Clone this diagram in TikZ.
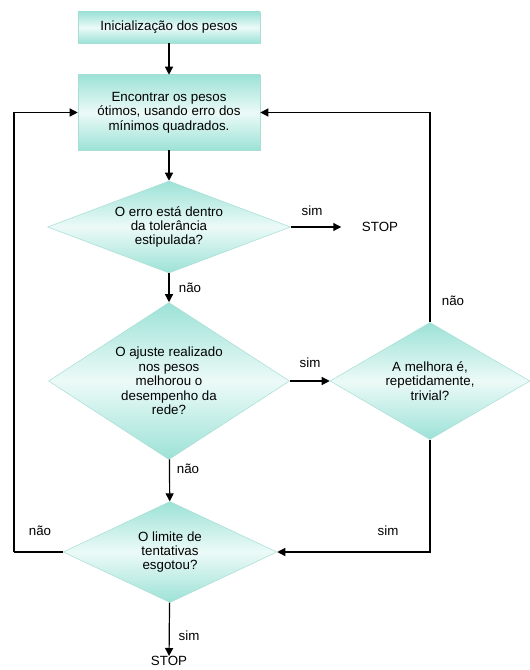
\documentclass[tikz,border=0pt]{standalone}
\usepackage{fontspec}
\setmainfont{Liberation Sans}
\usetikzlibrary{shapes.geometric,arrows.meta}
\definecolor{tealfill}{RGB}{156,226,215}
\definecolor{tealmid}{RGB}{236,250,247}
\definecolor{tealline}{RGB}{170,222,213}
\begin{document}
\begin{tikzpicture}[x=0.75pt,y=-0.75pt,
    every node/.style={font=\fontsize{10}{10.8}\selectfont},
    box/.style={rectangle,draw=tealline,top color=tealfill,bottom color=tealfill,middle color=tealmid,align=center,inner sep=0pt},
    decision/.style={diamond,draw=tealline,top color=tealfill,bottom color=tealfill,middle color=tealmid,align=center,inner sep=0pt},
    flow/.style={line width=0.9pt,-{Triangle[length=6pt,width=6pt]}},
    plain/.style={line width=0.9pt}]
  \useasboundingbox (0,0) rectangle (529,670);
  % caixas e decisoes
  \node[box,minimum width=136.5pt,minimum height=23.25pt] (init) at (169,27.5) {Inicialização dos pesos};
  \node[box,minimum width=136.5pt,minimum height=56.25pt] (find) at (169,112.5) {Encontrar os pesos\\ ótimos, usando erro dos\\ mínimos quadrados.};
  \node[decision,aspect=2.6,minimum width=182.25pt,minimum height=69pt] (tol) at (169,227) {O erro está dentro\\ da tolerância\\ estipulada?};
  \node[decision,aspect=1.5,minimum width=180.75pt,minimum height=117.75pt] (adj) at (169,381) {O ajuste realizado\\ nos pesos\\ melhorou o\\ desempenho da\\ rede?};
  \node[decision,aspect=1.7,minimum width=150pt,minimum height=87.75pt] (triv) at (430,381) {A melhora é,\\ repetidamente,\\ trivial?};
  \node[decision,aspect=2,minimum width=160.5pt,minimum height=75.75pt] (lim) at (170,552) {O limite de\\ tentativas\\ esgotou?};
  \node (stopa) at (380,227) {STOP};
  \node[anchor=north,inner sep=0pt] (stopb) at (169,656) {STOP};
  \coordinate (back) at (14,552);
  % ligacoes
  \draw[flow] (init) -- (find);
  \draw[flow] (find) -- (tol);
  \draw[flow,shorten >=12pt] (tol.east) -- (stopa.west);
  \draw[flow] (tol) -- (adj);
  \draw[flow] (adj.east) -- (triv.west);
  \draw[flow] (triv.north) |- (find.east);
  \draw[flow] (triv.south) |- (lim.east);
  \draw[flow] (adj) -- (lim);
  \draw[plain] (lim.west) -- (back);
  \draw[flow] (back) |- (find.west);
  \draw[flow] (lim) -- (stopb);
  % rotulos
  \node (l1) at (312,211) {sim};
  \node (l2) at (190,288) {não};
  \node (l3) at (310,363) {sim};
  \node (l4) at (453,301) {não};
  \node (l5) at (188,469) {não};
  \node (l6) at (388,531) {sim};
  \node (l7) at (40,531) {não};
  \node (l8) at (189,636) {sim};
\end{tikzpicture}
\end{document}
